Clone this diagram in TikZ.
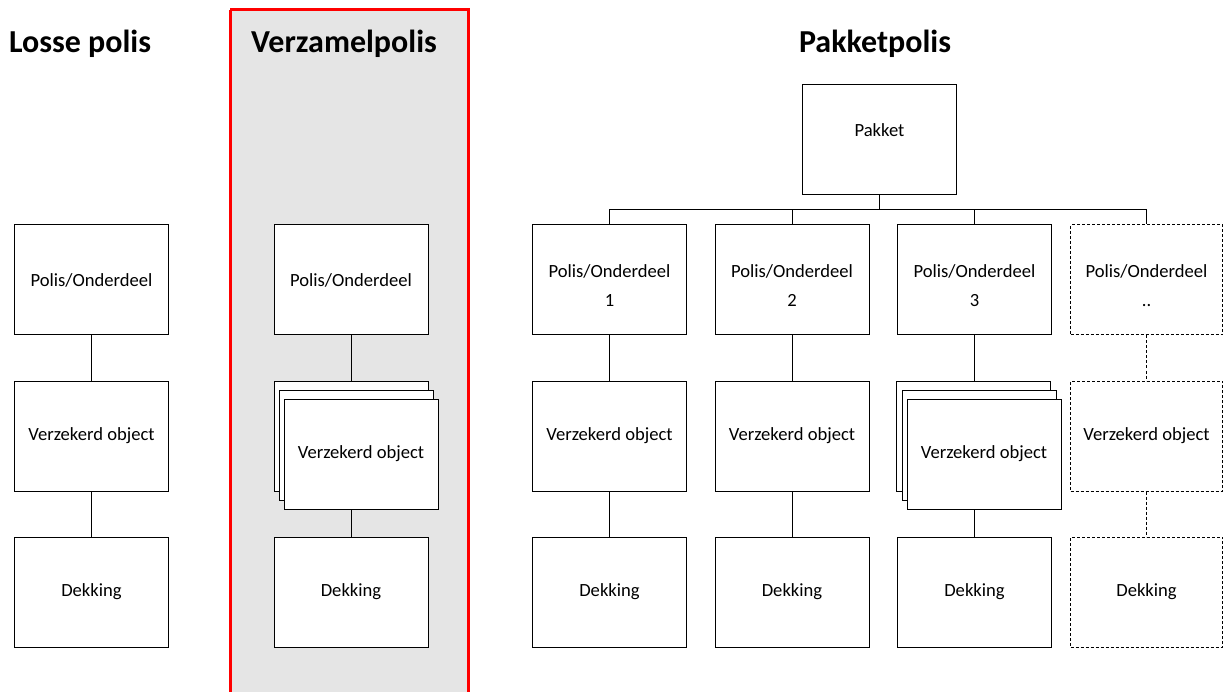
\documentclass[tikz,border=0pt]{standalone}
\usepackage{fontspec}
\setmainfont{Carlito}
\begin{document}
\begin{tikzpicture}[x=1pt,y=-1pt,
  box/.style={draw=black,line width=1pt,fill=white,minimum width=154pt,minimum height=110pt,inner sep=0pt,align=center,font=\fontsize{18.6}{29}\selectfont},
  dbox/.style={box,dashed,dash pattern=on 3pt off 2pt,minimum width=152pt},
  two/.style={label={[font=\fontsize{18.6}{29}\selectfont,align=center,yshift=-6pt]center:{#1}}},
  ttl/.style={font=\fontsize{32}{36}\selectfont\bfseries,anchor=base},
  con/.style={draw=black,line width=1pt},
  dcon/.style={con,dash pattern=on 3pt off 2pt}]
\useasboundingbox (0,0) rectangle (1223,692);
% Verzamelpolis panel
\fill[fill=black!10] (230,10) rectangle (468,700);
\draw[red,line width=3pt] (230,10) -- (230,700) (230,10) -- (468,10) -- (468,700);
% titles
\node[ttl] (t1) at (80,53) {Losse polis};
\node[ttl] (t2) at (344,53) {Verzamelpolis};
\node[ttl] (t3) at (875,53) {Pakketpolis};
% Losse polis
\node[box] (lp) at (91.5,280) {Polis/Onderdeel};
\node[box] (lv) at (91.5,436) {Verzekerd object};
\node[box] (ld) at (91.5,592) {Dekking};
\draw[con] (lp) -- (lv);
\draw[con] (lv) -- (ld);
% Verzamelpolis
\node[box] (vp) at (351,280) {Polis/Onderdeel};
\node[box] (vv1) at (351,436) {};
\node[box] (vv2) at (356,445) {};
\node[box] (vv3) at (361,454) {Verzekerd object};
\node[box] (vd) at (351,592) {Dekking};
\draw[con] (vp) -- (vv1);
\draw[con] (vd.north) -- (vd.north |- vv3.south);
% Pakketpolis
\node[box,label={[font=\fontsize{18.6}{29}\selectfont,yshift=10pt]center:Pakket}] (pk) at (879.5,140) {};
\node[box,two={Polis/Onderdeel\\1}] (p1) at (609.5,280) {};
\node[box,two={Polis/Onderdeel\\2}] (p2) at (792,280) {};
\node[box,two={Polis/Onderdeel\\3}] (p3) at (974.5,280) {};
\node[dbox,two={Polis/Onderdeel\\..}] (p4) at (1146.5,280) {};
\coordinate (bus) at (0,210);
\draw[con] (p1.north) |- (bus -| p4.north) -- (p4.north);
\draw[con] (p2.north) -- (p2.north |- bus);
\draw[con] (p3.north) -- (p3.north |- bus);
\draw[con] (pk.south) -- (pk.south |- bus);
\node[box] (o1) at (609.5,436) {Verzekerd object};
\node[box] (o2) at (792,436) {Verzekerd object};
\node[box] (o3a) at (973,436) {};
\node[box] (o3b) at (979,445) {};
\node[box] (o3c) at (984,454) {Verzekerd object};
\node[dbox] (o4) at (1146.5,436) {Verzekerd object};
\node[box] (d1) at (609.5,592) {Dekking};
\node[box] (d2) at (792,592) {Dekking};
\node[box] (d3) at (974.5,592) {Dekking};
\node[dbox] (d4) at (1146.5,592) {Dekking};
\draw[con] (p1) -- (o1);
\draw[con] (o1) -- (d1);
\draw[con] (p2) -- (o2);
\draw[con] (o2) -- (d2);
\draw[con] (p3.south) -- (p3.south |- o3a.north);
\draw[con] (d3.north) -- (d3.north |- o3c.south);
\draw[dcon] (p4) -- (o4);
\draw[dcon] (o4) -- (d4);
\end{tikzpicture}
\end{document}
